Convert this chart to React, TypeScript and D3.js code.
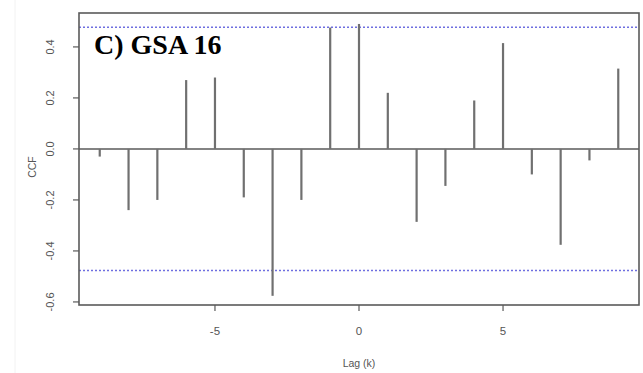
import React from "react";
import * as d3 from "d3";

// lags and cross-correlation values
const lags = [-9, -8, -7, -6, -5, -4, -3, -2, -1, 0, 1, 2, 3, 4, 5, 6, 7, 8, 9];
const ccf = [
  -0.03, -0.24, -0.2, 0.27, 0.28, -0.19, -0.576, -0.2, 0.476, 0.49, 0.22,
  -0.286, -0.145, 0.19, 0.415, -0.1, -0.376, -0.045, 0.315,
];
const yTicks = [-0.6, -0.4, -0.2, 0.0, 0.2, 0.4];
const xTicks = [-5, 0, 5];
const ciBound = 0.477;
const title = "C) GSA 16";

const W = 643;
const H = 373;

export default function App() {
  const left = 79;
  const right = 639;
  const top = 13;
  const bottom = 305;

  const x = d3.scaleLinear().domain([-9.72, 9.72]).range([left, right]);
  const y = d3.scaleLinear().domain([-0.612, 0.533]).range([bottom, top]);

  const axisCol = "#5a5a5a";
  const barCol = "#707070";
  const font = "'Liberation Sans', Arial, sans-serif";

  return (
    <div style={{ position: "fixed", left: 0, top: 0, background: "#fff" }}>
      <svg width={W} height={H} style={{ display: "block" }}>
        <rect x={0} y={0} width={W} height={H} fill="#fff" />
        <line x1={15} x2={15} y1={0} y2={H} stroke="#f2f2f2" strokeWidth={1} />

        {/* zero line */}
        <line x1={left} x2={right} y1={y(0)} y2={y(0)} stroke={axisCol} strokeWidth={1.6} />

        {/* confidence bounds */}
        {[ciBound, -ciBound].map((b) => (
          <line
            key={b}
            x1={left}
            x2={right}
            y1={y(b)}
            y2={y(b)}
            stroke="#6f6fe0"
            strokeWidth={1.4}
            strokeDasharray="2,2"
          />
        ))}

        {/* ccf bars */}
        {lags.map((k, i) => (
          <line
            key={k}
            x1={x(k)}
            x2={x(k)}
            y1={y(0)}
            y2={y(ccf[i])}
            stroke={barCol}
            strokeWidth={2.2}
          />
        ))}

        {/* box */}
        <rect
          x={left}
          y={top}
          width={right - left}
          height={bottom - top}
          fill="none"
          stroke={axisCol}
          strokeWidth={1.6}
        />

        {/* y axis */}
        {yTicks.map((t) => (
          <g key={t}>
            <line x1={left - 6} x2={left} y1={y(t)} y2={y(t)} stroke={axisCol} strokeWidth={1.2} />
            <text
              transform={`translate(54,${y(t)}) rotate(-90)`}
              textAnchor="middle"
              fontFamily={font}
              fontSize={11}
              fill="#555"
            >
              {d3.format(".1f")(t).replace("−", "-")}
            </text>
          </g>
        ))}
        <text
          transform={`translate(36,${(top + bottom) / 2 + 8}) rotate(-90)`}
          textAnchor="middle"
          fontFamily={font}
          fontSize={10.5}
          fill="#555"
        >
          CCF
        </text>

        {/* x axis */}
        {xTicks.map((t) => (
          <g key={t}>
            <line x1={x(t)} x2={x(t)} y1={bottom} y2={bottom + 6} stroke={axisCol} strokeWidth={1.2} />
            <text
              x={x(t)}
              y={bottom + 30}
              textAnchor="middle"
              fontFamily={font}
              fontSize={11.5}
              fill="#555"
            >
              {d3.format("d")(t).replace("−", "-")}
            </text>
          </g>
        ))}
        <text
          x={x(0)}
          y={bottom + 62}
          textAnchor="middle"
          fontFamily={font}
          fontSize={10.5}
          fill="#555"
        >
          Lag (k)
        </text>

        <text
          x={94}
          y={54}
          fontFamily="'Liberation Serif', 'Times New Roman', serif"
          fontWeight="bold"
          fontSize={28}
          fill="#000"
        >
          {title}
        </text>
      </svg>
    </div>
  );
}
